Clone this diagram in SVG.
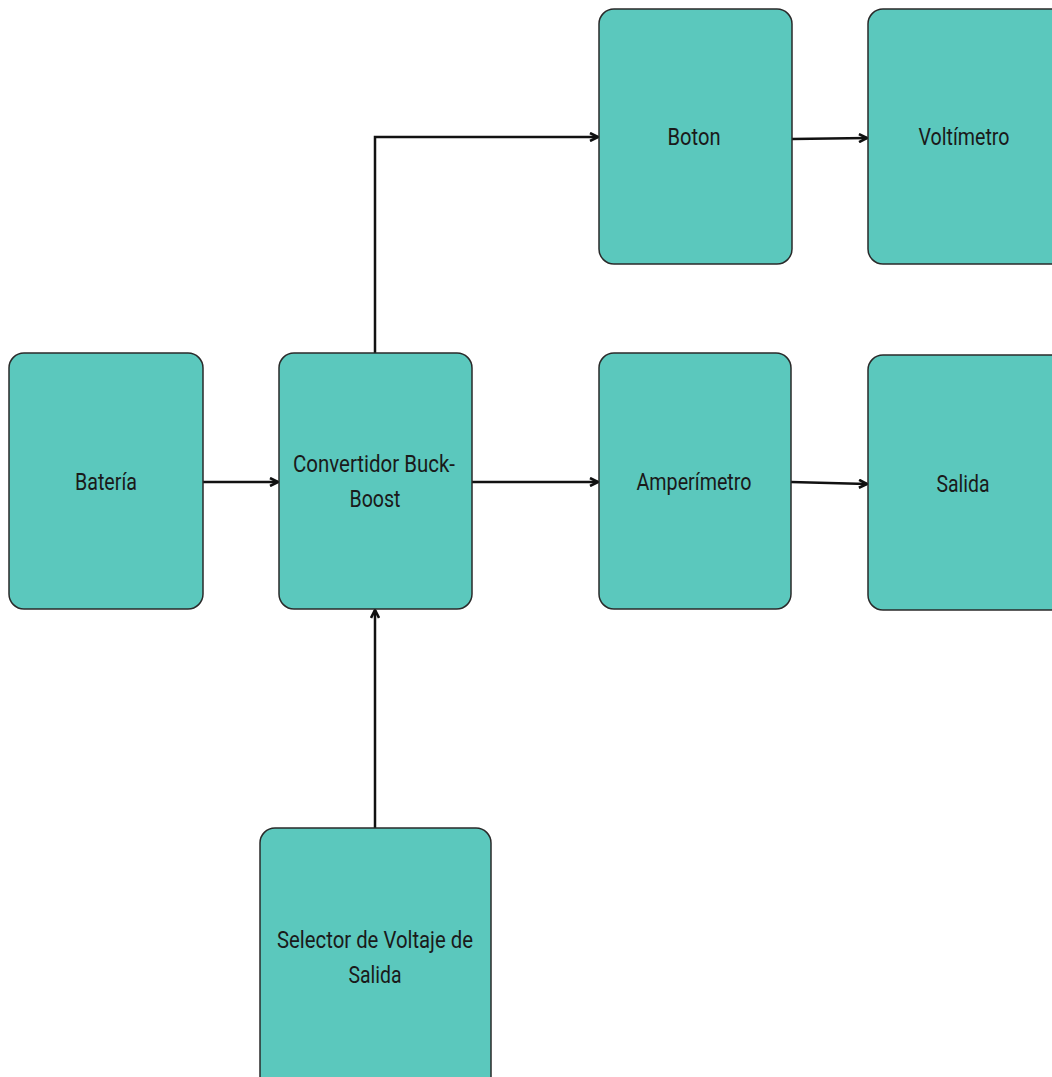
<svg xmlns="http://www.w3.org/2000/svg" width="1052" height="1077" viewBox="0 0 1052 1077">
<style>
.box{fill:#5bc8bd;stroke:#2a2a2a;stroke-width:1.5}
.lbl{font-family:Roboto,"Liberation Sans",sans-serif;font-size:24px;fill:#1a1a1a;text-anchor:middle;dominant-baseline:central}
.c{fill:none;stroke:#111;stroke-width:2.5}
</style>
<defs>
<marker id="ah" viewBox="0 0 10 10" refX="9" refY="5" markerWidth="4" markerHeight="4" orient="auto" markerUnits="strokeWidth">
<path d="M1,1 L9,5 L1,9" fill="none" stroke="#111" stroke-width="2.6"/>
</marker>
</defs>
<rect width="1052" height="1077" fill="#fff"/>
<g id="connectors">
<path class="c" d="M203,482 L278,482" marker-end="url(#ah)"/>
<path class="c" d="M375,353 L375,137 L598,137" marker-end="url(#ah)"/>
<path class="c" d="M792,139 L867,138" marker-end="url(#ah)"/>
<path class="c" d="M472,482 L598,482" marker-end="url(#ah)"/>
<path class="c" d="M791,482 L867,484" marker-end="url(#ah)"/>
<path class="c" d="M375,828 L375,610" marker-end="url(#ah)"/>
</g>
<g id="bateria"><rect class="box" x="9" y="353" width="194" height="256" rx="15"/><text class="lbl" x="106" y="482" textLength="62" lengthAdjust="spacingAndGlyphs">Batería</text></g>
<g id="convertidor"><rect class="box" x="279" y="353" width="193" height="256" rx="15"/><text class="lbl" x="374" y="464" textLength="162" lengthAdjust="spacingAndGlyphs">Convertidor Buck-</text><text class="lbl" x="375" y="499" textLength="51" lengthAdjust="spacingAndGlyphs">Boost</text></g>
<g id="boton"><rect class="box" x="599" y="9" width="193" height="255" rx="15"/><text class="lbl" x="694" y="137" textLength="53" lengthAdjust="spacingAndGlyphs">Boton</text></g>
<g id="voltimetro"><rect class="box" x="868" y="9" width="200" height="255" rx="15"/><text class="lbl" x="964" y="137" textLength="91" lengthAdjust="spacingAndGlyphs">Voltímetro</text></g>
<g id="amperimetro"><rect class="box" x="599" y="353" width="192" height="256" rx="15"/><text class="lbl" x="694" y="482" textLength="115" lengthAdjust="spacingAndGlyphs">Amperímetro</text></g>
<g id="salida"><rect class="box" x="868" y="355" width="200" height="255" rx="15"/><text class="lbl" x="963" y="484" textLength="53" lengthAdjust="spacingAndGlyphs">Salida</text></g>
<g id="selector"><rect class="box" x="260" y="828" width="231" height="270" rx="15"/><text class="lbl" x="375" y="940" textLength="196" lengthAdjust="spacingAndGlyphs">Selector de Voltaje de</text><text class="lbl" x="375" y="975" textLength="53" lengthAdjust="spacingAndGlyphs">Salida</text></g>
</svg>
